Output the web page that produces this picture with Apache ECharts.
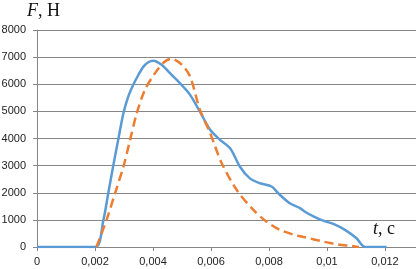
<!DOCTYPE html>
<html><head><meta charset="utf-8">
<script src="https://cdn.jsdelivr.net/npm/echarts@6/dist/echarts.min.js"></script>
<style>html,body{margin:0;padding:0;background:#fff}#c{width:416px;height:269px}</style>
</head><body><div id="c"></div>
<script>
var blueT = [0, 0.002, 0.00229, 0.00246, 0.00263, 0.0028, 0.00298, 0.00315, 0.00332, 0.0035, 0.00367, 0.00385, 0.00401, 0.0043, 0.00455, 0.00482, 0.00505, 0.00528, 0.00562, 0.00597, 0.00631, 0.00666, 0.007, 0.00734, 0.00769, 0.00809, 0.00832, 0.00872, 0.00907, 0.00924, 0.00955, 0.00987, 0.01022, 0.01062, 0.01102, 0.01131, 0.01206];
var blueF = [0, 0, 1000, 2000, 3000, 3950, 4930, 5550, 5980, 6350, 6650, 6820, 6870, 6720, 6450, 6160, 5900, 5610, 4990, 4320, 3950, 3640, 2960, 2530, 2350, 2230, 1980, 1610, 1430, 1300, 1120, 970, 850, 630, 320, 0, 0];
var orangeT = [0.00205, 0.0024, 0.00269, 0.00298, 0.00321, 0.00344, 0.00372, 0.00407, 0.00441, 0.00464, 0.00499, 0.00528, 0.00562, 0.00597, 0.00637, 0.00689, 0.00746, 0.00792, 0.00838, 0.0089, 0.00924, 0.00987, 0.01033, 0.01085, 0.0111];
var orangeF = [0, 1000, 1980, 2960, 3950, 4930, 5790, 6410, 6840, 6940, 6720, 6280, 5055, 4200, 3090, 2100, 1370, 930, 630, 440, 360, 200, 100, 35, 0];
var xTicks = [0, 0.002, 0.004, 0.006, 0.008, 0.01, 0.012];
var yTicks = [0, 1000, 2000, 3000, 4000, 5000, 6000, 7000, 8000];

function pairs(t, f) { return t.map(function (v, i) { return [v, f[i]]; }); }
var chart = echarts.init(document.getElementById('c'));
chart.setOption({
  animation: false,
  grid: { left: 37, right: 0, top: 30, bottom: 22, containLabel: false, outerBoundsMode: 'none' },
  xAxis: {
    type: 'value', min: 0, max: 0.01307, interval: 0.002,
    axisLine: { show: true, lineStyle: { color: '#868686', width: 1 } },
    axisTick: { show: true, length: 4, lineStyle: { color: '#868686' } },
    splitLine: { show: false },
    axisLabel: {
      margin: 9, color: '#222', fontSize: 11, fontFamily: 'Liberation Sans', showMaxLabel: false,
      formatter: function (v) {
        var k = xTicks.findIndex(function (x) { return Math.abs(x - v) < 1e-9; });
        return k < 0 ? '' : String(xTicks[k]).replace('.', ',');
      }
    }
  },
  yAxis: {
    type: 'value', min: yTicks[0], max: yTicks[yTicks.length - 1], interval: 1000,
    axisLine: { show: true, lineStyle: { color: '#868686', width: 1 } },
    axisTick: { show: true, length: 4, lineStyle: { color: '#868686' } },
    splitLine: { show: true, lineStyle: { color: '#868686', width: 1 } },
    axisLabel: { margin: 11, color: '#222', fontSize: 11, fontFamily: 'Liberation Sans',
      formatter: function (v) { return String(v); } }
  },
  graphic: [
    { type: 'text', left: 27, top: 2, style: {
      text: '{i|F}, Н', fill: '#111', font: '18px "Liberation Serif"',
      rich: { i: { fontStyle: 'italic', fontFamily: 'Liberation Serif', fontSize: 18, fill: '#111' } } } },
    { type: 'text', left: 373, top: 220, style: {
      text: '{i|t}, с', fill: '#111', font: '18px "Liberation Serif"',
      rich: { i: { fontStyle: 'italic', fontFamily: 'Liberation Serif', fontSize: 18, fill: '#111' } } } }
  ],
  series: [
    { type: 'line', data: pairs(blueT, blueF), smooth: 0.3, showSymbol: false,
      lineStyle: { color: '#5b9bd5', width: 2.5 }, z: 3 },
    { type: 'line', data: pairs(orangeT, orangeF), smooth: 0.3, showSymbol: false,
      lineStyle: { color: '#ed7d31', width: 2.5, type: [9, 5] }, z: 4 }
  ]
});
</script></body></html>
